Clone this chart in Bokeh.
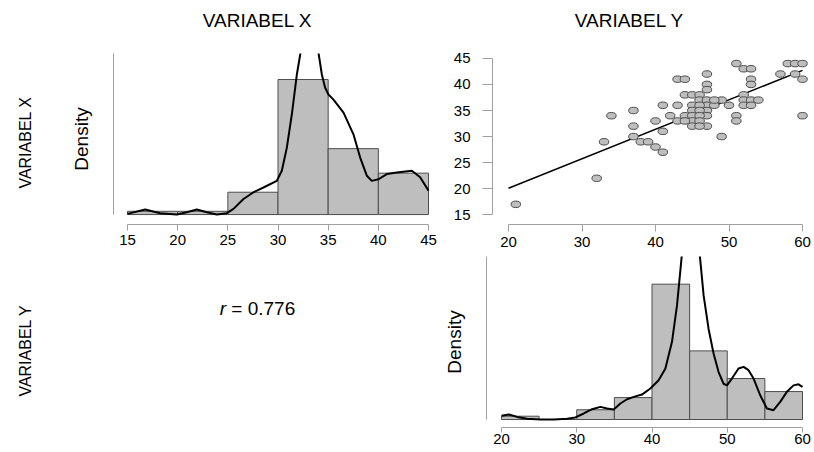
import numpy as np
from bokeh.plotting import figure
from bokeh.layouts import column, row
from bokeh.models import FixedTicker, Range1d
from bokeh.core.properties import value
from bokeh.embed import file_html
from bokeh.resources import INLINE

# ---------------- data ----------------
var_names = ["VARIABEL X", "VARIABEL Y"]
r_value = 0.776

# scatter: horizontal = VARIABEL Y, vertical = VARIABEL X
scatter_y_var = [21, 32, 33, 34, 37, 37, 37, 38, 39, 40, 40, 41, 41, 41, 42, 43, 44, 43, 43, 44,
                 44, 45, 46, 46, 47, 47, 47, 47, 47, 47, 47, 47, 45, 46, 45, 46, 45, 46, 45, 46,
                 45, 46, 48, 49, 49, 50, 51, 51, 51, 52, 53, 52, 52, 53, 52, 53, 53, 53, 54, 57,
                 58, 59, 60, 59, 60, 60, 44, 48]
scatter_x_var = [17, 22, 29, 34, 35, 32, 30, 29, 29, 28, 33, 31, 27, 36, 34, 41, 41, 36, 33, 38,
                 34, 38, 38, 37, 42, 40, 39, 37, 36, 35, 34, 32, 36, 36, 35, 35, 34, 34, 33, 33,
                 32, 32, 36, 37, 30, 36, 44, 34, 33, 43, 43, 38, 37, 37, 36, 36, 41, 40, 37, 42,
                 44, 44, 44, 42, 41, 34, 33, 37]
fit_intercept = 8.8
fit_slope = 0.565

# histogram of VARIABEL X (density)
hist_x_edges = [15, 20, 25, 30, 35, 40, 45]
hist_x_dens = [0.0024, 0.0024, 0.0165, 0.0998, 0.0487, 0.0306]
kde_x_grid = [15.0, 16.76, 18.26, 19.92, 20.91, 21.91, 22.91, 23.90, 24.90, 25.56, 26.56, 27.56,
              28.55, 29.88, 30.38, 30.88, 31.38, 31.88, 32.21, 32.6, 33.1, 33.6, 34.04, 34.37,
              34.70, 35.03, 35.53, 36.53, 37.52, 38.19, 38.85, 39.35, 40.02, 40.85, 41.84, 43.34,
              44.17, 45.0]
kde_x_dens = [0.0005, 0.0037, 0.0010, 0.0, 0.0017, 0.0037, 0.0017, 0.0, 0.0010, 0.0042, 0.0115,
              0.0165, 0.0200, 0.0249, 0.0324, 0.0494, 0.0741, 0.1035, 0.1181, 0.146, 0.165, 0.146,
              0.1193, 0.1035, 0.0937, 0.0887, 0.0849, 0.0753, 0.0593, 0.0421, 0.0287, 0.0249,
              0.0261, 0.0299, 0.0311, 0.0324, 0.0275, 0.0177]

# histogram of VARIABEL Y (density)
hist_y_edges = [20, 25, 30, 35, 40, 45, 50, 55, 60]
hist_y_dens = [0.0024, 0.0, 0.0071, 0.0160, 0.0988, 0.0501, 0.0299, 0.0204]
kde_y_grid = [20.0, 20.97, 22.08, 23.41, 25.18, 26.95, 28.72, 29.82, 30.93, 32.04, 33.14, 34.03,
              34.91, 35.80, 36.68, 37.79, 38.67, 39.78, 40.88, 41.77, 42.65, 43.32, 43.85, 44.4,
              45.1, 45.9, 46.42, 46.86, 47.52, 48.19, 48.85, 49.51, 49.96, 50.62, 51.50, 52.17,
              52.83, 53.50, 54.38, 55.27, 56.15, 57.04, 57.92, 58.81, 59.47, 60.0]
kde_y_dens = [0.0027, 0.0037, 0.0019, 0.0005, 0.0, 0.0, 0.0005, 0.0015, 0.0044, 0.0075,
              0.0092, 0.0080, 0.0073, 0.0117, 0.0148, 0.0169, 0.0182, 0.0226, 0.0286, 0.0371,
              0.0565, 0.0831, 0.1134, 0.146, 0.165, 0.146, 0.1160, 0.0906, 0.0661, 0.0480,
              0.0346, 0.0261, 0.0249, 0.0299, 0.0372, 0.0384, 0.0360, 0.0299, 0.0177, 0.0080,
              0.0068, 0.0129, 0.0202, 0.0249, 0.0257, 0.0238]
density_top = 0.119

ticks_x_var = [15, 20, 25, 30, 35, 40, 45]
ticks_y_var = [20, 30, 40, 50, 60]

# ---------------- style ----------------
FONT = "Liberation Sans"
AXIS_GRAY = "#A0A0A0"
BAR_FILL = "#BEBEBE"
EDGE = "#4D4D4D"
TICK_SIZE = "15px"
TOTAL_W, TOTAL_H = 812, 450


def span(v0, p0, v1, p1, lo, hi):
    s = (p1 - p0) / (v1 - v0)
    return Range1d(v0 + (lo - p0) / s, v0 + (hi - p0) / s)


def make_fig(box, frame, xr, yr, axes=True):
    fx, fy, fw, fh = box
    l, r, t, b = frame
    kw = {}
    if not axes:
        kw = dict(x_axis_location=None, y_axis_location=None)
    p = figure(width=fw, height=fh, x_range=xr, y_range=yr, output_backend="svg",
               toolbar_location=None, min_border_left=l - fx, min_border_right=fx + fw - r,
               min_border_top=t - fy, min_border_bottom=fy + fh - b, **kw)
    p.outline_line_color = None
    p.grid.visible = False
    p.background_fill_color = "white"
    p.border_fill_color = "white"
    return p


def text_fig(box):
    fx, fy, fw, fh = box
    return make_fig(box, (fx, fx + fw, fy, fy + fh), Range1d(0, 1), Range1d(0, 1), axes=False)


def put_text(p, box, sx, sy, text, size, angle=0.0, style="normal", align="center", dx=0.0):
    fx, fy, fw, fh = box
    p.text(x=[(sx - fx) / fw], y=[(fy + fh - sy) / fh], text=[text], angle=angle,
           x_offset=dx, text_align=align, text_baseline="middle", text_font=value(FONT),
           text_font_size=size, text_font_style=style, text_color="black")


def style_axis(ax, ticks, bounds, tick_out, standoff):
    ax.ticker = FixedTicker(ticks=ticks)
    ax.bounds = bounds
    ax.axis_line_color = AXIS_GRAY
    ax.axis_line_width = 1
    ax.major_tick_line_color = AXIS_GRAY
    ax.minor_tick_line_color = None
    ax.major_tick_out = tick_out
    ax.major_tick_in = 0
    ax.major_label_standoff = standoff
    ax.major_label_text_font = FONT
    ax.major_label_text_font_size = TICK_SIZE
    ax.major_label_text_color = "black"


def density_axis(ax):
    ax.ticker = FixedTicker(ticks=[])
    ax.bounds = (0, density_top)
    ax.axis_line_color = AXIS_GRAY
    ax.major_tick_line_color = None
    ax.minor_tick_line_color = None
    ax.axis_label = "Density"
    ax.axis_label_text_font = FONT
    ax.axis_label_text_font_size = "19px"
    ax.axis_label_text_font_style = "normal"
    ax.axis_label_text_color = "black"
    ax.axis_label_standoff = 22


# ---------------- row labels (left strip) ----------------
boxL = (0, 0, 44, TOTAL_H)
pL = text_fig(boxL)
put_text(pL, boxL, 25, 142, var_names[0], "16px", angle=np.pi / 2)
put_text(pL, boxL, 25, 350, var_names[1], "16px", angle=np.pi / 2)

# ---------------- column headers ----------------
boxH = (44, 0, TOTAL_W - 44, 40)
pH = text_fig(boxH)
put_text(pH, boxH, 257, 20, var_names[0], "19px")
put_text(pH, boxH, 629, 20, var_names[1], "19px")

# ---------------- panel A: histogram of X ----------------
boxA, frameA = (44, 40, 396, 214), (113, 432, 53, 225)
pA = make_fig(boxA, frameA, span(15, 127, 45, 428, 113, 432),
              span(0, 215, density_top, 53, 225, 53))
pA.quad(left=hist_x_edges[:-1], right=hist_x_edges[1:], bottom=0, top=hist_x_dens,
        fill_color=BAR_FILL, line_color=EDGE, line_width=1)
pA.line(kde_x_grid, kde_x_dens, line_color="black", line_width=2)
style_axis(pA.xaxis[0], ticks_x_var, (15, 45), 6, 4)
density_axis(pA.yaxis[0])

# ---------------- panel B: scatter ----------------
boxB, frameB = (440, 40, TOTAL_W - 440, 214), (492, 809, 48, 224)
pB = make_fig(boxB, frameB, span(20, 508, 60, 802, 492, 809), span(15, 214, 45, 53, 224, 48))
fit_x = [ticks_y_var[0], ticks_y_var[-1]]
fit_y = [fit_intercept + fit_slope * v for v in fit_x]
pB.line(fit_x, fit_y, line_color="black", line_width=1.5)
pB.ellipse(x=scatter_y_var, y=scatter_x_var, width=9.5, height=6.5, width_units="screen",
           height_units="screen", fill_color=BAR_FILL, line_color=EDGE, line_width=1)
style_axis(pB.xaxis[0], ticks_y_var, (20, 60), 7, 5)
style_axis(pB.yaxis[0], ticks_x_var, (15, 45), 10, 12)

# ---------------- panel C: correlation text ----------------
boxC = (44, 254, 396, TOTAL_H - 254)
pC = text_fig(boxC)
put_text(pC, boxC, 257, 314, "r", "19px", style="italic", align="left", dx=-37.8)
put_text(pC, boxC, 257, 314, f"= {r_value:.3f}", "19px", align="left", dx=-26.2)

# ---------------- panel D: histogram of Y ----------------
boxD, frameD = (440, 254, TOTAL_W - 440, TOTAL_H - 254), (486, 809, 256, 427)
pD = make_fig(boxD, frameD, span(20, 501, 60, 802, 486, 809),
              span(0, 419, density_top, 256, 427, 256))
pD.quad(left=hist_y_edges[:-1], right=hist_y_edges[1:], bottom=0, top=hist_y_dens,
        fill_color=BAR_FILL, line_color=EDGE, line_width=1)
pD.line(kde_y_grid, kde_y_dens, line_color="black", line_width=2)
style_axis(pD.xaxis[0], ticks_y_var, (20, 60), 5, 1)
density_axis(pD.yaxis[0])

layout = row(pL, column(pH, row(pA, pB), row(pC, pD)))
open("out.html", "w").write(file_html(layout, INLINE))
